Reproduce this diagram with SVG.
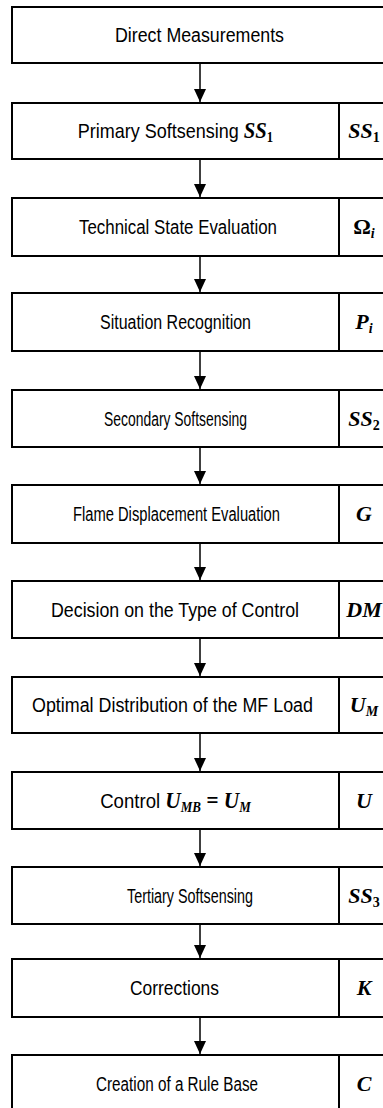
<svg xmlns="http://www.w3.org/2000/svg" width="383" height="1108" viewBox="0 0 383 1108">
<style>
.box{fill:#fff;stroke:#000;stroke-width:2}
.div{stroke:#000;stroke-width:2}
.lbl{font-family:"Liberation Sans",Arial,sans-serif;font-size:20px;fill:#000;text-anchor:middle}
.fit{font-family:"Liberation Sans",Arial,sans-serif;font-size:20px;fill:#000;text-anchor:start}
.sym{font-family:"Liberation Serif","Times New Roman",serif;font-size:22px;font-weight:bold;font-style:italic;fill:#000;text-anchor:middle}
.isym{font-family:"Liberation Serif","Times New Roman",serif;font-size:23px;font-weight:bold;font-style:italic}
.sub{font-size:14px}
.up{font-style:normal}
.conn line{stroke:#000;stroke-width:1.5}
</style>
<defs>
<marker id="ah" markerUnits="userSpaceOnUse" markerWidth="13" markerHeight="12" refX="13" refY="6" orient="auto" viewBox="0 0 13 12">
<path d="M0,0 L13,6 L0,12 Z" fill="#000"/>
</marker>
</defs>
<g class="conn">
<line x1="200" y1="64" x2="200" y2="102" marker-end="url(#ah)"/>
<line x1="200" y1="160" x2="200" y2="197" marker-end="url(#ah)"/>
<line x1="200" y1="257" x2="200" y2="292" marker-end="url(#ah)"/>
<line x1="200" y1="352" x2="200" y2="389" marker-end="url(#ah)"/>
<line x1="200" y1="448" x2="200" y2="484" marker-end="url(#ah)"/>
<line x1="200" y1="544" x2="200" y2="580" marker-end="url(#ah)"/>
<line x1="200" y1="639" x2="200" y2="676" marker-end="url(#ah)"/>
<line x1="200" y1="734" x2="200" y2="771" marker-end="url(#ah)"/>
<line x1="200" y1="830" x2="200" y2="866" marker-end="url(#ah)"/>
<line x1="200" y1="925" x2="200" y2="958" marker-end="url(#ah)"/>
<line x1="200" y1="1018" x2="200" y2="1054" marker-end="url(#ah)"/>
</g>
<g id="n1"><rect class="box" x="12" y="7" width="377" height="56"/><text class="fit" x="115" y="42" textLength="169" lengthAdjust="spacingAndGlyphs">Direct Measurements</text></g>
<g id="n2"><rect class="box" x="12" y="103" width="377" height="56"/><line class="div" x1="339" y1="103" x2="339" y2="159"/><text class="lbl" transform="translate(175.5 138) scale(0.9 1)">Primary Softsensing  <tspan class="isym">SS<tspan class="sub up" dy="4">1</tspan></tspan></text><text class="sym" x="364" y="138">SS<tspan class="sub up" dy="4">1</tspan></text></g>
<g id="n3"><rect class="box" x="12" y="198" width="377" height="58"/><line class="div" x1="339" y1="198" x2="339" y2="256"/><text class="fit" x="79" y="234" textLength="198" lengthAdjust="spacingAndGlyphs">Technical State Evaluation</text><text class="sym" x="364" y="234"><tspan class="up">Ω</tspan><tspan class="sub" dy="4">i</tspan></text></g>
<g id="n4"><rect class="box" x="12" y="293" width="377" height="58"/><line class="div" x1="339" y1="293" x2="339" y2="351"/><text class="fit" x="100" y="329" textLength="151" lengthAdjust="spacingAndGlyphs">Situation Recognition</text><text class="sym" x="364" y="329">P<tspan class="sub" dy="4">i</tspan></text></g>
<g id="n5"><rect class="box" x="12" y="390" width="377" height="57"/><line class="div" x1="339" y1="390" x2="339" y2="447"/><text class="fit" x="104" y="425.5" textLength="143" lengthAdjust="spacingAndGlyphs">Secondary Softsensing</text><text class="sym" x="364" y="425.5">SS<tspan class="sub up" dy="4">2</tspan></text></g>
<g id="n6"><rect class="box" x="12" y="485" width="377" height="58"/><line class="div" x1="339" y1="485" x2="339" y2="543"/><text class="fit" x="73" y="521" textLength="207" lengthAdjust="spacingAndGlyphs">Flame Displacement Evaluation</text><text class="sym" x="364" y="521">G</text></g>
<g id="n7"><rect class="box" x="12" y="581" width="377" height="57"/><line class="div" x1="339" y1="581" x2="339" y2="638"/><text class="fit" x="51" y="616.5" textLength="248" lengthAdjust="spacingAndGlyphs">Decision on the Type of Control</text><text class="sym" x="364" y="616.5">DM</text></g>
<g id="n8"><rect class="box" x="12" y="677" width="377" height="56"/><line class="div" x1="339" y1="677" x2="339" y2="733"/><text class="fit" x="32" y="712" textLength="281" lengthAdjust="spacingAndGlyphs">Optimal Distribution of the MF Load</text><text class="sym" x="364" y="712">U<tspan class="sub" dy="4">M</tspan></text></g>
<g id="n9"><rect class="box" x="12" y="772" width="377" height="57"/><line class="div" x1="339" y1="772" x2="339" y2="829"/><text class="lbl" transform="translate(175.5 807.5) scale(0.93 1)">Control  <tspan class="isym">U<tspan class="sub" dy="4">MB</tspan><tspan dy="-4"> = U</tspan><tspan class="sub" dy="4">M</tspan></tspan></text><text class="sym" x="364" y="807.5">U</text></g>
<g id="n10"><rect class="box" x="12" y="867" width="377" height="57"/><line class="div" x1="339" y1="867" x2="339" y2="924"/><text class="fit" x="127" y="902.5" textLength="126" lengthAdjust="spacingAndGlyphs">Tertiary Softsensing</text><text class="sym" x="364" y="902.5">SS<tspan class="sub up" dy="4">3</tspan></text></g>
<g id="n11"><rect class="box" x="12" y="959" width="377" height="58"/><line class="div" x1="339" y1="959" x2="339" y2="1017"/><text class="fit" x="130" y="995" textLength="89" lengthAdjust="spacingAndGlyphs">Corrections</text><text class="sym" x="364" y="995">K</text></g>
<g id="n12"><rect class="box" x="12" y="1055" width="377" height="58"/><line class="div" x1="339" y1="1055" x2="339" y2="1113"/><text class="fit" x="96" y="1090.5" textLength="162" lengthAdjust="spacingAndGlyphs">Creation of a Rule Base</text><text class="sym" x="364" y="1090.5">C</text></g>
</svg>
